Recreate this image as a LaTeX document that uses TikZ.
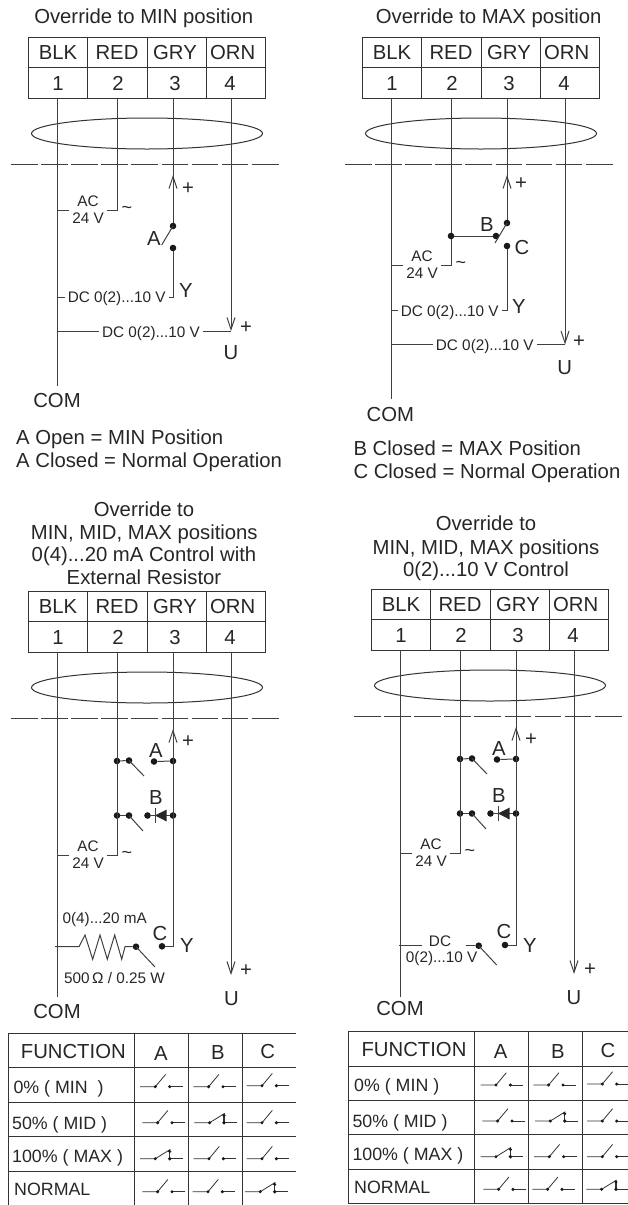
\documentclass[tikz,border=0pt]{standalone}
\usepackage{fontspec}
\setmainfont{Liberation Sans}
\usetikzlibrary{arrows.meta,shapes.geometric}

\newcommand{\terminalhead}{%
    \foreach \i/\cx/\col/\tx/\nx/\wx in {1/58/BLK/58/58/57,2/117.3/RED/117/118/117,3/176.8/GRY/175/175/173,4/236/ORN/232.7/230/231}{
        \node[termbox] (h\i) at (\cx,52.5) {};
        \node[termbox] (t\i) at (\cx,83) {};
        \node[big] (c\i) at (\tx,52.5) {\col};
        \node[big] (n\i) at (\nx,83) {\i};
        \coordinate (p\i) at (\wx,98);
    }
    \node[loom] (loom) at (147,133.5) {};
    \coordinate (cutl) at (11,164.5);
    \coordinate (cutr) at (279,164.5);
    \draw[cut] (cutl) -- (cutr);
}

\newcommand{\actap}[1]{%
    \begin{scope}[shift={(0,#1)}]
        \node[small] (ac) at (88,-9) {AC};
        \node[small] (acv) at (88,8) {24 V};
        \node[tilde] (acs) at (127,0) {\textasciitilde};
        \coordinate (aca) at (57,0);
        \coordinate (acb) at (117,0);
    \end{scope}
    \draw[wire] (aca) -- (acv.west |- aca);
    \draw[wire] (p2) -- (acb) -- (acv.east |- acb);
}

\newcommand{\stepswitches}{%
    \coordinate (tip3) at (173,175);
    \node[dot] (ja) at (117,207) {};
    \node[dot] (sa) at (129,206.5) {};
    \coordinate (la) at (144,222);
    \node[dot] (ra) at (154,207.5) {};
    \node[dot] (ka) at (173,207) {};
    \node[big] (laba) at (156,196) {A};
    \draw[wire] (ja) -- (sa);
    \draw[wire] (sa.center) -- (la);
    \draw[wire] (ra) -- (ka);
    \draw[wire, barbtip] (ka) -- (tip3);
    \node[plain] (plus3) at (188,186) {+};

    \node[dot] (jb) at (117,261.5) {};
    \node[dot] (sb) at (129,261.5) {};
    \coordinate (lb) at (143,277);
    \node[dot] (rb) at (147.5,261.5) {};
    \node[dot] (kb) at (173,261.5) {};
    \node[big] (labb) at (156,243) {B};
    \draw[wire] (jb) -- (sb);
    \draw[wire] (sb.center) -- (lb);
    \draw[wire] (rb) -- (kb);
    \fill[ink] (155,261.5) -- (166.7,255.5) -- (166.7,267.5) -- cycle;
    \draw[wire] (155,254) -- (155,269);
    \actap{301}
}

\newcommand{\functable}{%
    \foreach \y in {0,34.5,69,103,138}
        \draw[rule] (0,\y) -- (\tablew,\y);
    \foreach \x in {0,126,180,234}
        \draw[rule] (\x,0) -- (\x,172);
}

\begin{document}
\begin{tikzpicture}[
        x=1pt, y=-1pt,
        ink/.style={black!85},
        big/.style={ink, inner sep=0pt, text height=14.6pt, text depth=0pt, font=\fontsize{20.3}{24}\selectfont},
        plain/.style={big},
        small/.style={ink, inner sep=3pt, text height=11pt, text depth=0pt, font=\fontsize{15.3}{18}\selectfont},
        tilde/.style={ink, inner sep=0pt, font=\fontsize{18}{20}\selectfont},
        tabtext/.style={ink, inner sep=0pt, anchor=west, text height=12.8pt, text depth=0pt, font=\fontsize{17.8}{20}\selectfont},
        termbox/.style={draw=black!80, line width=1pt, inner sep=0pt, outer sep=0pt, minimum width=59.4pt, minimum height=30.5pt},
        loom/.style={draw=black!80, ellipse, line width=1pt, inner sep=0pt, minimum width=231pt, minimum height=31pt},
        cut/.style={black!75, line width=1pt, dash pattern=on 26.7pt off 3.4pt},
        wire/.style={black!75, line width=1pt},
        rule/.style={black!80, line width=1pt},
        dot/.style={circle, fill=black!90, inner sep=0pt, outer sep=0pt, minimum size=6.6pt},
        barbtip/.style={-{Straight Barb[length=12pt,width=8pt]}},
        swline/.style={black!80, line width=0.8pt},
        swopen/.pic={
            \draw[swline] (0,0) -- (15.3,0) -- (25.6,-12.3);
            \draw[swline] (29.7,0) -- (42.7,0);
            \fill[black!90] (15.3,0) circle (1.7) (29.7,0) circle (1.7);
        },
        swclosed/.pic={
            \draw[swline] (0,0) -- (15.3,0) -- (30.3,-9.3);
            \draw[swline, line width=1.1pt] (29.7,-7.3) -- (29.7,0);
            \draw[swline] (29.7,0) -- (42.7,0);
            \fill[black!90] (15.3,0) circle (1.7) (29.7,-7.3) circle (1.7) (29.7,0) circle (1.9);
        },
    ]
    \useasboundingbox (0,0) rectangle (628,1205);

    % MIN override
    \begin{scope}[name prefix=mn-]
        \node[big] (title) at (143.7,16) {Override to MIN position};
        \terminalhead
        \actap{210}
        \coordinate (tip3) at (173,175);
        \node[dot] (up) at (173,226) {};
        \node[dot] (dn) at (173,248) {};
        \coordinate (arm) at (161.7,245);
        \node[big] (laba) at (154,238) {A};
        \node[plain] (plus3) at (188,187) {+};
        \node[big] (y) at (186,290) {Y};
        \node[small] (dc) at (116.7,297) {DC 0(2)...10 V};
        \coordinate (dca) at (57,297);
        \coordinate (dcb) at (173,297);
        \node[small] (dcu) at (151,332) {DC 0(2)...10 V};
        \coordinate (dcua) at (57,331);
        \coordinate (tip4) at (231,331);
        \node[plain] (plus4) at (246,326.5) {+};
        \node[big] (u) at (231,352.5) {U};
        \node[big] (com) at (57,400.5) {COM};
        \coordinate (p1e) at (57,386);

        \draw[wire] (p1) -- (p1e);
        \draw[wire] (p3) -- (up);
        \draw[wire, barbtip] (up) -- (tip3);
        \draw[wire] (up.center) -- (arm);
        \draw[wire] (dn) -- (dcb) -- (dc.east |- dcb);
        \draw[wire] (dca) -- (dc.west |- dca);
        \draw[wire, barbtip] (p4) -- (tip4);
        \draw[wire] (dcua) -- (dcu.west |- dcua);
        \draw[wire] (tip4) -- (dcu.east |- tip4);

        \node[big, anchor=west] (capa) at (16,437.3) {A Open = MIN Position};
        \node[big, anchor=west] (capb) at (16,460) {A Closed = Normal Operation};
    \end{scope}

    % MAX override
    \begin{scope}[shift={(334,0)}, name prefix=mx-]
        \node[big] (title) at (154.7,16) {Override to MAX position};
        \terminalhead
        \actap{265}
        \coordinate (tip3) at (173,175);
        \node[dot] (up) at (173,223) {};
        \node[dot] (dn) at (173,246) {};
        \node[dot] (jb) at (117,236) {};
        \node[dot] (sb) at (162,236) {};
        \coordinate (arm) at (161,243);
        \node[big] (labb) at (153,224) {B};
        \node[big] (labc) at (188,247) {C};
        \node[plain] (plus3) at (187,182) {+};
        \node[big] (y) at (185,305.7) {Y};
        \node[small] (dc) at (115.7,310.7) {DC 0(2)...10 V};
        \coordinate (dca) at (57,310.7);
        \coordinate (dcb) at (173,310.7);
        \node[small] (dcu) at (150.8,345.3) {DC 0(2)...10 V};
        \coordinate (dcua) at (57,344.5);
        \coordinate (tip4) at (231,344.5);
        \node[plain] (plus4) at (245,340) {+};
        \node[big] (u) at (230.7,366.7) {U};
        \node[big] (com) at (56.3,414.3) {COM};
        \coordinate (p1e) at (57,399);

        \draw[wire] (p1) -- (p1e);
        \draw[wire] (p3) -- (up);
        \draw[wire, barbtip] (up) -- (tip3);
        \draw[wire] (up.center) -- (arm);
        \draw[wire] (jb) -- (sb);
        \draw[wire] (dn) -- (dcb) -- (dc.east |- dcb);
        \draw[wire] (dca) -- (dc.west |- dca);
        \draw[wire, barbtip] (p4) -- (tip4);
        \draw[wire] (dcua) -- (dcu.west |- dcua);
        \draw[wire] (tip4) -- (dcu.east |- tip4);

        \node[big, anchor=west] (capa) at (19.3,447.7) {B Closed = MAX Position};
        \node[big, anchor=west] (capb) at (19.3,471) {C Closed = Normal Operation};
    \end{scope}

    % mA control
    \begin{scope}[name prefix=ma-]
        \node[big] (titlea) at (144,509.3) {Override to};
        \node[big] (titleb) at (144.3,532.3) {MIN, MID, MAX positions};
        \node[big] (titlec) at (144,554.3) {0(4)...20 mA Control with};
        \node[big] (titled) at (144,577.3) {External Resistor};
    \end{scope}
    \begin{scope}[shift={(0,554)}, name prefix=ma-]
        \terminalhead
        \stepswitches
        \node[small] (rma) at (104.7,364.3) {0(4)...20 mA};
        \coordinate (rs) at (55,392.7);
        \node[dot] (rd) at (136,392.7) {};
        \coordinate (ra2) at (155,413);
        \node[small] (rv) at (114.5,424) {500\,Ω / 0.25 W};
        \node[big] (labc) at (160,379) {C};
        \node[dot] (cd) at (162,392.3) {};
        \coordinate (ce) at (173,392.3);
        \node[big] (y) at (187,391) {Y};
        \coordinate (tip4) at (231,421);
        \node[plain] (plus4) at (246,415) {+};
        \node[big] (u) at (231.5,444) {U};
        \node[big] (com) at (57,457) {COM};
        \coordinate (p1e) at (57,443);

        \draw[wire] (p1) -- (p1e);
        \draw[wire] (p3) -- (ce) -- (cd);
        \draw[wire, barbtip] (p4) -- (tip4);
        \draw[wire] (rs) -- (79,392.7) -- (85,381) -- (92.7,405.3) -- (100,381) -- (107.3,405.3)
            -- (114.7,381) -- (121.7,405.3) -- (125,392.7) -- (rd);
        \draw[wire] (rd.center) -- (ra2);
    \end{scope}

    % V control
    \begin{scope}[shift={(343,552)}, name prefix=vc-]
        \node[big] (titlea) at (143,-28.7) {Override to};
        \node[big] (titleb) at (143,-5.3) {MIN, MID, MAX positions};
        \node[big] (titlec) at (143,17.3) {0(2)...10 V Control};
        \terminalhead
        \stepswitches
        \node[small] (dc) at (97,388.7) {DC};
        \node[small] (dcv) at (98.7,405) {0(2)...10 V};
        \coordinate (dca) at (56,393.7);
        \coordinate (dcb) at (79,393.7);
        \coordinate (dcc) at (123,393.7);
        \node[dot] (dd) at (135.7,393.7) {};
        \coordinate (da2) at (153.7,413);
        \node[big] (labc) at (161,378.7) {C};
        \node[dot] (cd) at (162,393) {};
        \coordinate (ce) at (173,393);
        \node[big] (y) at (187,393) {Y};
        \coordinate (tip4) at (231,422);
        \node[plain] (plus4) at (247,416) {+};
        \node[big] (u) at (231,445) {U};
        \node[big] (com) at (57,456) {COM};
        \coordinate (p1e) at (57,445);

        \draw[wire] (p1) -- (p1e);
        \draw[wire] (p3) -- (ce) -- (cd);
        \draw[wire, barbtip] (p4) -- (tip4);
        \draw[wire] (dca) -- (dcb);
        \draw[wire] (dcc) -- (dd);
        \draw[wire] (dd.center) -- (da2);
    \end{scope}

    % left table
    \begin{scope}[shift={(8.5,1033)}]
        \def\tablew{287}
        \functable
    \end{scope}
    \node[big] (fa) at (73.3,1051) {FUNCTION};
    \node[big] (fa1) at (161,1053) {A};
    \node[big] (fa2) at (218,1052) {B};
    \node[big] (fa3) at (267.7,1051) {C};
    \node[tabtext] (fa4) at (13.3,1086.7) {0\% ( MIN \ )};
    \node[tabtext] (fa5) at (12,1122.7) {50\% ( MID )};
    \node[tabtext] (fa6) at (12,1155.7) {100\% ( MAX )};
    \node[tabtext] (fa7) at (14,1189.3) {NORMAL};
    \foreach \x/\y in {140/1086.7,193.3/1086.7,246.7/1085.7,142.3/1122.7,246.7/1122.7,193.7/1158.7,246.7/1158.7,142.3/1191.7,192.7/1191.7}
        \pic at (\x,\y) {swopen};
    \foreach \x/\y in {194.3/1122.7,140/1158.7,245/1191.7}
        \pic at (\x,\y) {swclosed};

    % right table
    \begin{scope}[shift={(348.3,1031.7)}]
        \def\tablew{280}
        \functable
        \draw[rule] (0,171.3) -- (280,171.3);
    \end{scope}
    \node[big] (fb) at (414,1049) {FUNCTION};
    \node[big] (fb1) at (500.7,1051) {A};
    \node[big] (fb2) at (558,1050.7) {B};
    \node[big] (fb3) at (608,1050) {C};
    \node[tabtext] (fb4) at (354,1085) {0\% ( MIN )};
    \node[tabtext] (fb5) at (352.3,1120.7) {50\% ( MID )};
    \node[tabtext] (fb6) at (352.3,1154) {100\% ( MAX )};
    \node[tabtext] (fb7) at (354,1187.3) {NORMAL};
    \foreach \x/\y in {480.7/1085,533.3/1085,587/1084,482.3/1121,587/1121,534/1156.7,587/1156.7,483.3/1189.3,532.3/1189.3}
        \pic at (\x,\y) {swopen};
    \foreach \x/\y in {535/1121,480.7/1156.7,586.3/1189.3}
        \pic at (\x,\y) {swclosed};
\end{tikzpicture}
\end{document}
